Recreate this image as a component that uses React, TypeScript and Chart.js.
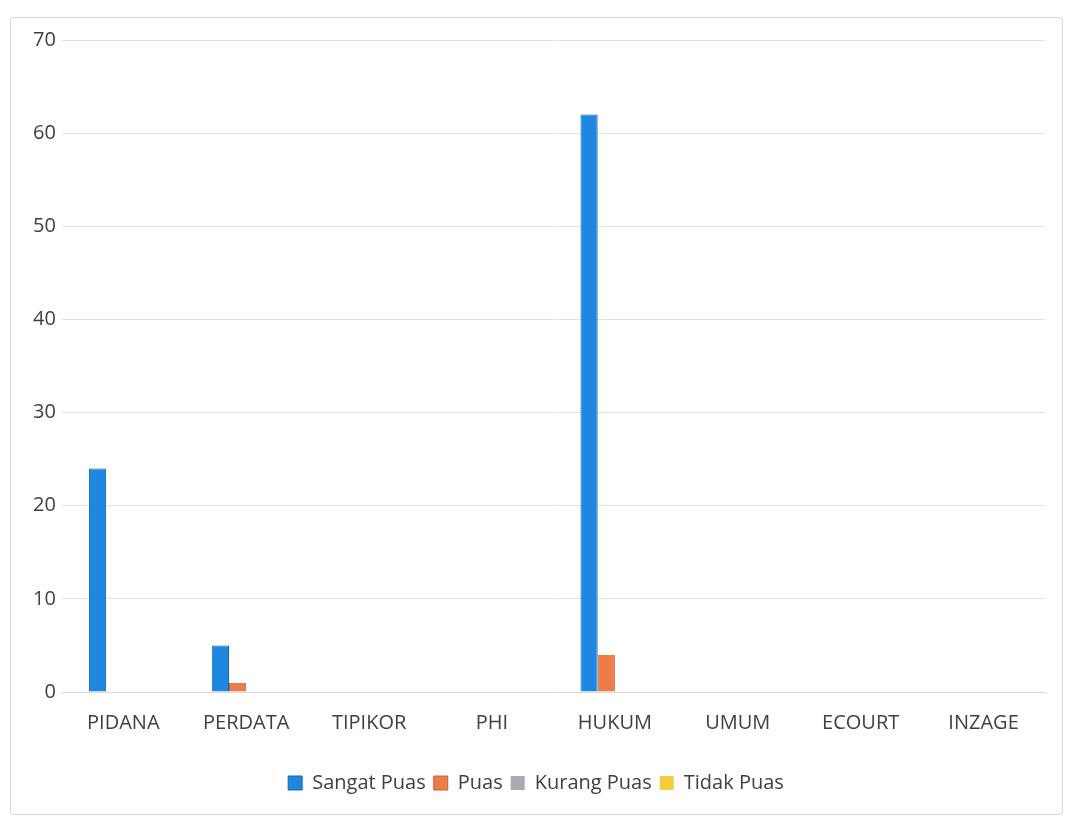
import React, { useEffect, useRef } from "react";
import { Chart, registerables } from "chart.js";

Chart.register(...registerables);

const categories = ["PIDANA", "PERDATA", "TIPIKOR", "PHI", "HUKUM", "UMUM", "ECOURT", "INZAGE"];
const sangatPuas = [24, 5, 0, 0, 62, 0, 0, 0];
const puas = [0, 1, 0, 0, 4, 0, 0, 0];
const kurangPuas = [0, 0, 0, 0, 0, 0, 0, 0];
const tidakPuas = [0, 0, 0, 0, 0, 0, 0, 0];
const seriesNames = ["Sangat Puas", "Puas", "Kurang Puas", "Tidak Puas"];

const FONT = "'Open Sans', 'Noto Sans', sans-serif";

export default function App() {
  const ref = useRef<HTMLCanvasElement | null>(null);
  useEffect(() => {
    if (!ref.current) return;
    const chart = new Chart(ref.current, {
      type: "bar",
      data: {
        labels: categories,
        datasets: [
          { label: seriesNames[0], data: sangatPuas, backgroundColor: "#1E88E0", borderColor: "#1565B5", borderWidth: 1 },
          { label: seriesNames[1], data: puas, backgroundColor: "#ED7D48", borderColor: "#C8602E", borderWidth: 1 },
          { label: seriesNames[2], data: kurangPuas, backgroundColor: "#A5ACB5", borderColor: "#A5ACB5", borderWidth: 0 },
          { label: seriesNames[3], data: tidakPuas, backgroundColor: "#F5CD3A", borderColor: "#F5CD3A", borderWidth: 0 },
        ],
      },
      options: {
        animation: false,
        responsive: true,
        maintainAspectRatio: false,
        layout: { padding: { left: 16, right: 17, top: 22, bottom: 11 } },
        datasets: { bar: { categoryPercentage: 0.56, barPercentage: 1.0 } },
        scales: {
          x: {
            grid: { display: false, drawTicks: false },
            border: { display: true, color: "#d9d9d9" },
            ticks: { color: "#404040", font: { family: FONT, size: 20 }, padding: 19 },
            afterFit: (axis: any) => {
              axis.height = 73;
            },
          },
          y: {
            min: 0,
            max: 70,
            grid: { color: "#e3e3e3", drawTicks: false },
            border: { display: false },
            ticks: { stepSize: 10, color: "#404040", font: { family: FONT, size: 20 }, padding: 6 },
          },
        },
        plugins: {
          legend: {
            position: "bottom",
            labels: {
              color: "#404040",
              font: { family: FONT, size: 20 },
              boxWidth: 14,
              boxHeight: 14,
              padding: 8,
            },
          },
          tooltip: { enabled: false },
        },
      },
    });
    return () => chart.destroy();
  }, []);
  return (
    <div
      style={{
        marginTop: 9,
        marginLeft: 2,
        width: 1053,
        height: 798,
        border: "1px solid #d8d8d8",
        borderRadius: 4,
        boxSizing: "border-box",
        position: "relative",
        background: "#fff",
      }}
    >
      <canvas ref={ref} />
    </div>
  );
}
